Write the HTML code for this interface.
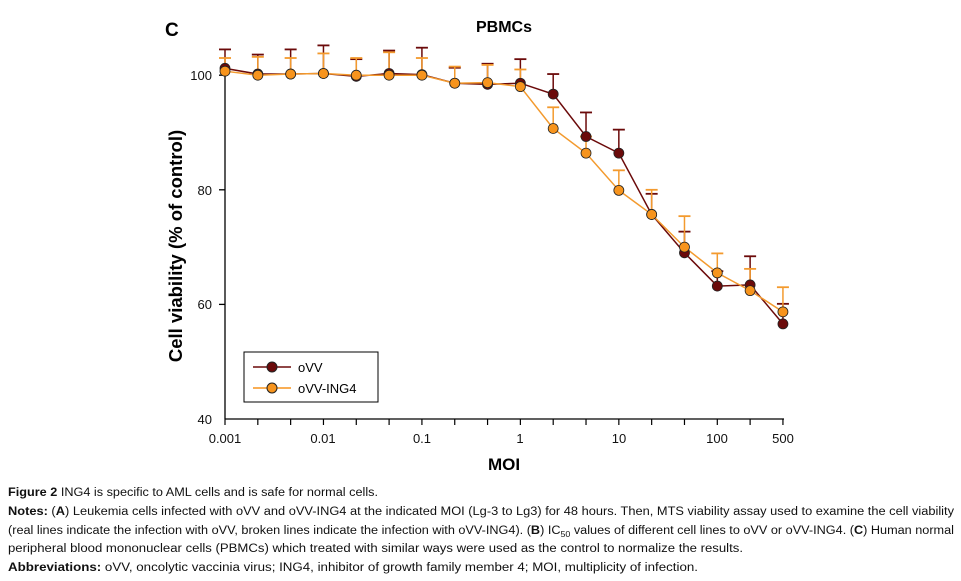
<!DOCTYPE html>
<html><head><meta charset="utf-8"><style>
html,body{margin:0;padding:0;background:#fff;}
svg{display:block;font-family:"Liberation Sans",Arial,sans-serif;}
</style></head><body>
<svg width="961" height="581" viewBox="0 0 961 581" xmlns="http://www.w3.org/2000/svg">
<text x="165" y="36" font-size="19" font-weight="bold">C</text>
<text x="504" y="32" font-size="16" font-weight="bold" text-anchor="middle">PBMCs</text>
<text transform="translate(182,246) rotate(-90)" font-size="18.5" font-weight="bold" text-anchor="middle">Cell viability (% of control)</text>
<text x="504" y="470" font-size="17" font-weight="bold" text-anchor="middle">MOI</text>
<g id="axes" stroke="#000" stroke-width="1.3" fill="none">
<line x1="225" y1="65" x2="225" y2="419"/>
<line x1="225" y1="419" x2="784" y2="419"/>
</g>
<g id="plot"></g>
<g font-size="13" fill="#111">
<text x="212" y="80" text-anchor="end">100</text>
<text x="212" y="195" text-anchor="end">80</text>
<text x="212" y="309" text-anchor="end">60</text>
<text x="212" y="424" text-anchor="end">40</text>
</g>
<g font-size="13" fill="#111" text-anchor="middle">
<text x="225" y="443">0.001</text><text x="323" y="443">0.01</text><text x="422" y="443">0.1</text>
<text x="520" y="443">1</text><text x="619" y="443">10</text><text x="717" y="443">100</text><text x="783" y="443">500</text>
</g>
<rect x="244" y="352" width="134" height="50" fill="#fff" stroke="#000" stroke-width="1"/>
<line x1="253" y1="367" x2="291" y2="367" stroke="#6b0a0a" stroke-width="1.5"/>
<circle cx="272" cy="367" r="5" fill="#6b0a0a" stroke="#222"/>
<text x="298" y="372" font-size="13">oVV</text>
<line x1="253" y1="388" x2="291" y2="388" stroke="#f7941d" stroke-width="1.5"/>
<circle cx="272" cy="388" r="5" fill="#f7941d" stroke="#222"/>
<text x="298" y="393" font-size="13">oVV-ING4</text>
<g font-size="11.5" fill="#111">
<text x="8" y="496" textLength="370" lengthAdjust="spacingAndGlyphs"><tspan font-weight="bold">Figure 2</tspan> ING4 is specific to AML cells and is safe for normal cells.</text>
<text x="8" y="515" textLength="946" lengthAdjust="spacingAndGlyphs"><tspan font-weight="bold">Notes:</tspan> (<tspan font-weight="bold">A</tspan>) Leukemia cells infected with oVV and oVV-ING4 at the indicated MOI (Lg-3 to Lg3) for 48 hours. Then, MTS viability assay used to examine the cell viability</text>
<text x="8" y="534" textLength="946" lengthAdjust="spacingAndGlyphs">(real lines indicate the infection with oVV, broken lines indicate the infection with oVV-ING4). (<tspan font-weight="bold">B</tspan>) IC<tspan font-size="8" dy="3">50</tspan><tspan dy="-3"> values of different cell lines to oVV or oVV-ING4. (</tspan><tspan font-weight="bold">C</tspan>) Human normal</text>
<text x="8" y="552" textLength="735" lengthAdjust="spacingAndGlyphs">peripheral blood mononuclear cells (PBMCs) which treated with similar ways were used as the control to normalize the results.</text>
<text x="8" y="571" textLength="690" lengthAdjust="spacingAndGlyphs"><tspan font-weight="bold">Abbreviations:</tspan> oVV, oncolytic vaccinia virus; ING4, inhibitor of growth family member 4; MOI, multiplicity of infection.</text>
</g>
<script>
(function(){
var ns="http://www.w3.org/2000/svg",g=document.getElementById("plot"),ax=document.getElementById("axes");
function X(i){return 225+i*32.82;}function Y(v){return 419-(v-40)*5.73;}
function el(n,a,p){var e=document.createElementNS(ns,n);for(var k in a)e.setAttribute(k,a[k]);(p||g).appendChild(e);return e;}
for(var i=0;i<18;i++)el("line",{x1:X(i),y1:419,x2:X(i),y2:425,stroke:"#000","stroke-width":1.2},ax);
[60,80,100].forEach(function(v){el("line",{x1:219,y1:Y(v),x2:225,y2:Y(v),stroke:"#000"},ax)});
var a=[[101.2,104.5],[100.2,103.6],[100.2,104.5],[100.3,105.2],[99.8,102.8],[100.3,104.3],[100.1,104.8],[98.6,101.3],[98.4,102],[98.6,102.8],[96.7,100.2],[89.3,93.5],[86.4,90.5],[75.7,79.3],[69,72.7],[63.2,65.8],[63.4,68.4],[56.6,60.1]];
var b=[[100.7,103],[100,103.2],[100.2,103],[100.3,103.8],[100,103],[100,104],[100,103],[98.6,101.5],[98.7,101.8],[98,101],[90.7,94.4],[86.4,89.3],[79.9,83.4],[75.7,80],[70,75.4],[65.5,68.9],[62.4,66.2],[58.7,63]];
function series(d,c){
 d.forEach(function(p,i){el("line",{x1:X(i),y1:Y(p[0]),x2:X(i),y2:Y(p[1]),stroke:c,"stroke-width":1.5});
  el("line",{x1:X(i)-6,y1:Y(p[1]),x2:X(i)+6,y2:Y(p[1]),stroke:c,"stroke-width":1.8});});
 el("polyline",{points:d.map(function(p,i){return X(i)+","+Y(p[0])}).join(" "),fill:"none",stroke:c,"stroke-width":1.5});
}
function marks(d,c){d.forEach(function(p,i){el("circle",{cx:X(i),cy:Y(p[0]),r:5,fill:c,stroke:"#222","stroke-width":0.8});});}
series(a,"#6b0a0a");series(b,"#f39a2e");marks(a,"#6b0a0a");marks(b,"#f7941d");
})();
</script>
</svg>
</body></html>
